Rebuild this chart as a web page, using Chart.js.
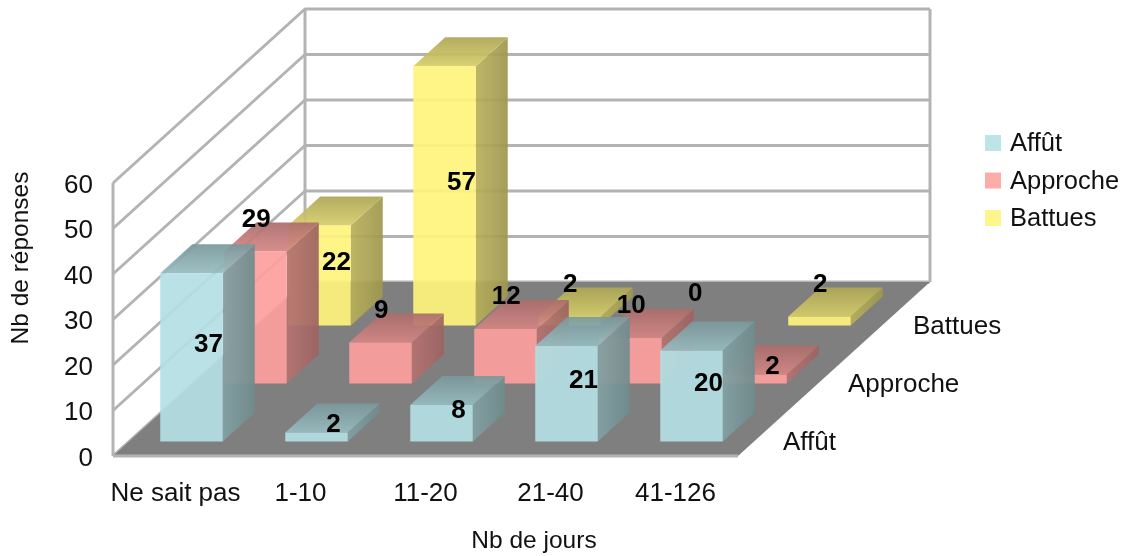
<!DOCTYPE html>
<html>
<head>
<meta charset="utf-8">
<script src="https://cdn.jsdelivr.net/npm/chart.js@4"></script>
<style>
  html, body { margin: 0; padding: 0; background: #fff; }
  canvas { display: block; }
</style>
</head>
<body>
<canvas id="joursChart" width="1123" height="556"></canvas>
<script>
const categories = ['Ne sait pas', '1-10', '11-20', '21-40', '41-126'];
const methods = ['Affût', 'Approche', 'Battues'];
const affut = [37, 2, 8, 21, 20];
const approche = [29, 9, 12, 10, 2];
const battues = [22, 57, 2, 0, 2];
const yTicks = [0, 10, 20, 30, 40, 50, 60];

// rgb of each series, shaded per face when the boxes are drawn
const seriesRgb = [[180, 224, 228], [252, 160, 157], [255, 244, 125]];

// how far the back of the floor sits from its front edge
const DEPTH_X = 192;
const DEPTH_Y = 174;
const FONT = '"Liberation Sans", Arial, sans-serif';

// labels sitting at the back corner of the box, the others go in the middle of it
const raisedLabels = [[], [0, 1, 2, 3], [2, 3, 4]];

Chart.defaults.font.family = FONT;
Chart.defaults.font.size = 26;
Chart.defaults.color = '#111';

function project(x, y, f) {
  return [x + f * DEPTH_X, y - f * DEPTH_Y];
}

function polygon(ctx, pts, fill) {
  ctx.beginPath();
  pts.forEach((p, i) => (i ? ctx.lineTo(p[0], p[1]) : ctx.moveTo(p[0], p[1])));
  ctx.closePath();
  ctx.fillStyle = fill;
  ctx.fill();
}

function shade(rgb, k, alpha) {
  return `rgba(${rgb.map(c => Math.round(c * k)).join(',')},${alpha})`;
}

// front and back of a row, as fractions of the floor depth
function rowRange(chart, row) {
  const z = chart.scales.z;
  const mid = (z.getPixelForValue(row) - z.left) / z.width;
  const half = 1 / z.ticks.length / 4;
  return [mid - half, mid + half];
}

// bar controller that draws each bar as an oblique box
class Box3dController extends Chart.BarController {
  draw() {
    const chart = this.chart;
    const ctx = chart.ctx;
    const meta = this.getMeta();
    const rgb = seriesRgb[this.index];
    const [f0, f1] = rowRange(chart, this.index);

    meta.data.forEach(bar => {
      // a zero value leaves nothing on the floor
      if (bar.y === bar.base) return;

      const left = bar.x - bar.width / 2;
      const right = bar.x + bar.width / 2;
      const a = project(left, bar.base, f0);
      const b = project(right, bar.base, f0);
      const c = project(right, bar.y, f0);
      const d = project(left, bar.y, f0);
      const e = project(right, bar.base, f1);
      const g = project(right, bar.y, f1);
      const h = project(left, bar.y, f1);

      const side = ctx.createLinearGradient(b[0], 0, e[0], 0);
      side.addColorStop(0, shade(rgb, 0.72, 0.93));
      side.addColorStop(1, shade(rgb, 0.62, 0.93));
      polygon(ctx, [b, e, g, c], side);

      const top = ctx.createLinearGradient(0, d[1], 0, h[1]);
      top.addColorStop(0, shade(rgb, 0.84, 0.93));
      top.addColorStop(1, shade(rgb, 0.68, 0.93));
      polygon(ctx, [d, c, g, h], top);

      polygon(ctx, [a, b, c, d], shade(rgb, 1, 0.92));
    });
  }
}
Box3dController.id = 'box3d';
Chart.register(Box3dController);

// walls, grid and floor behind the boxes
const roomPlugin = {
  id: 'room',
  beforeDatasetsDraw(chart) {
    const { ctx, chartArea: area, scales } = chart;
    const y0 = scales.y.getPixelForValue(0);
    const yMax = scales.y.getPixelForValue(yTicks[yTicks.length - 1]);
    const backLeft = project(area.left, y0, 1);
    const backRight = project(area.right, y0, 1);

    ctx.save();
    ctx.strokeStyle = '#b3b3b3';
    ctx.lineWidth = 3;
    ctx.lineJoin = 'round';
    yTicks.forEach(t => {
      const py = scales.y.getPixelForValue(t);
      const corner = project(area.left, py, 1);
      const end = project(area.right, py, 1);
      ctx.beginPath();
      ctx.moveTo(area.left, py);
      ctx.lineTo(corner[0], corner[1]);
      ctx.lineTo(end[0], end[1]);
      ctx.stroke();
    });
    const topLeft = project(area.left, yMax, 1);
    const topRight = project(area.right, yMax, 1);
    ctx.beginPath();
    ctx.moveTo(area.left, y0);
    ctx.lineTo(area.left, yMax);
    ctx.moveTo(topLeft[0], topLeft[1]);
    ctx.lineTo(backLeft[0], backLeft[1]);
    ctx.moveTo(topRight[0], topRight[1]);
    ctx.lineTo(backRight[0], backRight[1]);
    ctx.stroke();

    polygon(ctx, [[area.left, y0], [area.right, y0], backRight, backLeft], '#7f7f7f');
    ctx.beginPath();
    ctx.moveTo(area.left, y0);
    ctx.lineTo(area.right, y0);
    ctx.stroke();
    ctx.restore();
  },

  afterDatasetsDraw(chart) {
    const { ctx, chartArea: area, scales } = chart;
    ctx.save();

    // values on the boxes
    ctx.font = `bold 26px ${FONT}`;
    ctx.fillStyle = '#000';
    ctx.textAlign = 'center';
    ctx.textBaseline = 'middle';
    chart.data.datasets.forEach((ds, i) => {
      const [f0, f1] = rowRange(chart, i);
      chart.getDatasetMeta(i).data.forEach((bar, j) => {
        const left = bar.x - bar.width / 2;
        const right = bar.x + bar.width / 2;
        const back = project(left, bar.y, f1);
        if (raisedLabels[i].includes(j)) {
          ctx.fillText(ds.data[j], back[0], back[1] - 3);
        } else {
          const low = project(left, bar.base, f0);
          const high = project(right, bar.y, f1);
          ctx.fillText(ds.data[j], (low[0] + high[0]) / 2 + 1, (low[1] + high[1]) / 2 + 2);
        }
      });
    });

    // depth axis labels along the right edge of the floor
    ctx.font = `26px ${FONT}`;
    ctx.fillStyle = '#111';
    ctx.textAlign = 'left';
    const y0 = scales.y.getPixelForValue(0);
    scales.z.getLabels().forEach((label, i) => {
      const [f0, f1] = rowRange(chart, i);
      const p = project(area.right, y0, (f0 + f1) / 2);
      ctx.fillText(label, p[0] + 13 + i, p[1] + 16);
    });

    // axis titles
    ctx.textAlign = 'center';
    ctx.font = `24.5px ${FONT}`;
    ctx.fillText('Nb de jours', 534, 541);
    ctx.translate(21, 258);
    ctx.rotate(-Math.PI / 2);
    ctx.fillText('Nb de réponses', 0, 0);
    ctx.setTransform(1, 0, 0, 1, 0, 0);

    // legend
    ctx.textAlign = 'left';
    ctx.font = `25.5px ${FONT}`;
    chart.data.datasets.forEach((ds, i) => {
      const cy = 143 + i * 37.5;
      ctx.fillStyle = shade(seriesRgb[i], 1, 0.88);
      ctx.fillRect(985, cy - 8, 16, 16);
      ctx.fillStyle = '#111';
      ctx.fillText(ds.label, 1010, cy + 1);
    });
    ctx.restore();
  }
};

const ctx = document.getElementById('joursChart').getContext('2d');
new Chart(ctx, {
  type: 'box3d',
  data: {
    labels: categories,
    datasets: [
      { label: methods[0], data: affut, clip: false },
      { label: methods[1], data: approche, clip: false },
      { label: methods[2], data: battues, clip: false }
    ]
  },
  plugins: [roomPlugin],
  options: {
    responsive: false,
    animation: false,
    layout: { padding: { top: 183, right: 385 } },
    grouped: false,
    categoryPercentage: 0.5,
    barPercentage: 1,
    plugins: {
      legend: { display: false },
      tooltip: { enabled: false }
    },
    scales: {
      x: {
        type: 'category',
        offset: true,
        grid: { display: false },
        border: { display: false },
        ticks: { padding: 14, maxRotation: 0, autoSkip: false },
        afterFit: scale => { scale.height = 100; }
      },
      y: {
        type: 'linear',
        min: 0,
        max: 60,
        grid: { display: false, drawTicks: false },
        border: { display: false },
        ticks: { stepSize: 10, padding: 20, labelOffset: 2.5 },
        afterFit: scale => { scale.width = 113; }
      },
      // the rows going back across the floor
      z: {
        type: 'category',
        axis: 'x',
        labels: methods,
        offset: true,
        display: false
      }
    }
  }
});
</script>
</body>
</html>
